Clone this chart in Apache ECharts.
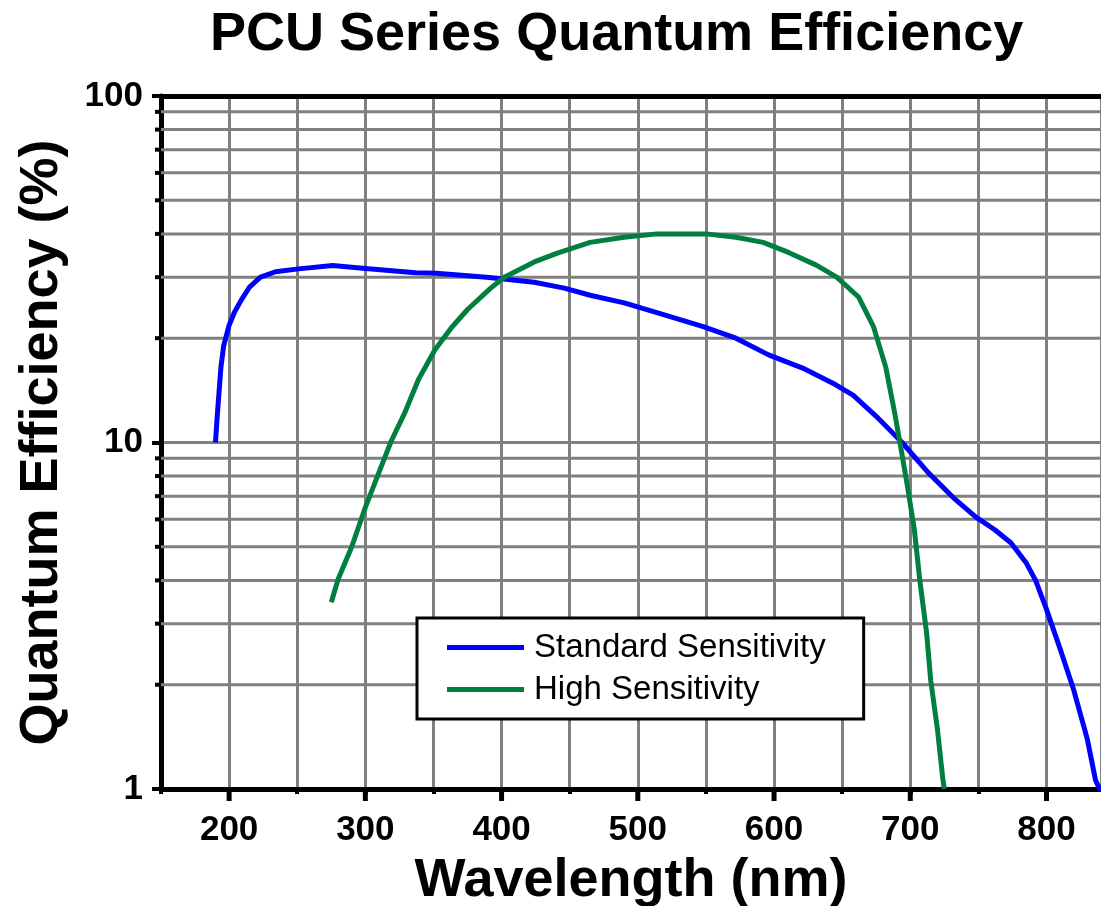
<!DOCTYPE html>
<html><head><meta charset="utf-8">
<script src="https://cdn.jsdelivr.net/npm/echarts@6/dist/echarts.min.js"></script>
<style>html,body{margin:0;padding:0;background:#fff}#c{width:1101px;height:906px}</style>
</head><body><div id="c"></div>
<script>
const titleText = 'PCU Series Quantum Efficiency';
const xName = 'Wavelength (nm)';
const yName = 'Quantum Efficiency (%)';
const seriesNames = ['Standard Sensitivity', 'High Sensitivity'];

const standardWl = [190, 191, 192, 194, 196, 200, 204, 209, 215, 223, 234, 251, 276, 300, 337, 352, 389, 424, 446, 465, 490, 514, 548, 572, 596, 621, 645, 658, 675, 694, 713, 733, 748, 762, 774, 785, 792, 800, 811, 820, 830, 836, 840];
const standardQE = [10, 11.5, 13, 16.5, 19, 21.8, 23.8, 25.8, 28.1, 30.0, 31.1, 31.7, 32.4, 31.8, 30.9, 30.8, 30.0, 29.0, 27.9, 26.6, 25.3, 23.7, 21.6, 20.0, 17.9, 16.4, 14.7, 13.7, 11.9, 10.0, 8.2, 6.85, 6.1, 5.6, 5.13, 4.5, 4.0, 3.3, 2.47, 1.93, 1.39, 1.06, 0.98];

const highWl = [275, 280, 290, 300, 310, 319, 329, 339, 351, 363, 375, 392, 402, 424, 441, 465, 490, 514, 550, 572, 592, 611, 631, 646, 662, 673, 682, 688, 693, 698, 703, 707, 712, 715, 720, 724, 725];
const highQE = [3.46, 4.03, 5.0, 6.5, 8.2, 10.1, 12.2, 15.2, 18.5, 21.4, 24.2, 27.9, 30.0, 33.2, 35.2, 37.8, 39.1, 40.0, 40.0, 39.1, 37.8, 35.3, 32.5, 30.0, 26.3, 21.6, 16.5, 12.5, 9.7, 7.45, 5.6, 4.0, 2.82, 2.06, 1.48, 1.06, 1.0];

const minorYValues = [2, 3, 4, 5, 6, 7, 8, 9, 20, 30, 40, 50, 60, 70, 80, 90];
const majorXTicks = [200, 300, 400, 500, 600, 700, 800];
const xMin = 150, xMax = 840, yMin = 1, yMax = 100;

const FONT = 'Liberation Sans';
const chart = echarts.init(document.getElementById('c'));

const standardData = standardWl.map((w, i) => [w, standardQE[i]]);
const highData = highWl.map((w, i) => [w, highQE[i]]);

chart.setOption({
  animation: false,
  backgroundColor: '#fff',
  title: {
    text: titleText, left: 205, top: 3,
    textStyle: { fontFamily: FONT, fontSize: 54, fontWeight: 'bold', color: '#000' }
  },
  grid: { left: 161, right: 0, top: 96, bottom: 117, containLabel: false, outerBoundsMode: 'none' },
  legend: {
    data: seriesNames, orient: 'vertical', left: 417, top: 618,
    padding: [13, 38, 13, 30], itemGap: 9, itemWidth: 77, itemHeight: 5,
    icon: 'rect',
    borderColor: '#000', borderWidth: 3, backgroundColor: '#fff',
    selectedMode: false,
    textStyle: { fontFamily: FONT, fontSize: 33, color: '#000', padding: [0, 0, 0, 5] }
  },
  xAxis: [{
    type: 'value', min: xMin, max: xMax, interval: 50,
    name: xName, nameLocation: 'middle', nameGap: 65,
    nameTextStyle: { fontFamily: FONT, fontSize: 54, fontWeight: 'bold', color: '#000' },
    axisLine: { lineStyle: { color: '#000', width: 5 } },
    axisTick: { length: 5, lineStyle: { color: '#000', width: 4 } },
    axisLabel: {
      formatter: v => (v % 100 === 0 ? String(v) : ''),
      fontFamily: FONT, fontSize: 35, fontWeight: 'bold', color: '#000', margin: 24,
      showMaxLabel: false
    },
    splitLine: { show: true, lineStyle: { color: '#808080', width: 3 } }
  }, {
    type: 'value', min: xMin, max: xMax, position: 'top',
    axisLine: { show: true, lineStyle: { color: '#000', width: 5 } },
    axisTick: { show: false }, axisLabel: { show: false }, splitLine: { show: false }
  }],
  yAxis: {
    type: 'log', logBase: 10, min: yMin, max: yMax,
    name: yName, nameLocation: 'middle', nameGap: 92,
    nameTextStyle: { fontFamily: FONT, fontSize: 54, fontWeight: 'bold', color: '#000' },
    axisLine: { show: true, lineStyle: { color: '#000', width: 5 } },
    axisTick: { show: true, length: 9, lineStyle: { color: '#000', width: 4 } },
    axisLabel: { fontFamily: FONT, fontSize: 35, fontWeight: 'bold', color: '#000', margin: 18 },
    splitLine: { show: true, lineStyle: { color: '#808080', width: 3 } }
  },
  series: [
    {
      type: 'custom', z: 1, silent: true,
      data: minorYValues.map(v => [v]),
      renderItem: (params, api) => {
        const v = api.value(0);
        const a = api.coord([xMin, v]);
        const b = api.coord([xMax, v]);
        return {
          type: 'group', children: [
            { type: 'line', shape: { x1: a[0], y1: a[1], x2: b[0], y2: b[1] }, style: { stroke: '#808080', lineWidth: 3 } },
            { type: 'line', shape: { x1: a[0] - 6, y1: a[1], x2: a[0], y2: a[1] }, style: { stroke: '#000', lineWidth: 4 } }
          ]
        };
      }
    },
    {
      type: 'custom', z: 1, silent: true,
      data: majorXTicks.map(v => [v]),
      renderItem: (params, api) => {
        const p = api.coord([api.value(0), yMin]);
        return { type: 'line', shape: { x1: p[0], y1: p[1], x2: p[0], y2: p[1] + 12 }, style: { stroke: '#000', lineWidth: 5 } };
      }
    },
    {
      name: seriesNames[0], type: 'line', z: 3, data: standardData,
      showSymbol: false, symbol: 'none', smooth: false, clip: true,
      lineStyle: { color: '#0000ff', width: 5 }, itemStyle: { color: '#0000ff' }
    },
    {
      name: seriesNames[1], type: 'line', z: 3, data: highData,
      showSymbol: false, symbol: 'none', smooth: false, clip: true,
      lineStyle: { color: '#007f3f', width: 5 }, itemStyle: { color: '#007f3f' }
    }
  ]
});
</script></body></html>
